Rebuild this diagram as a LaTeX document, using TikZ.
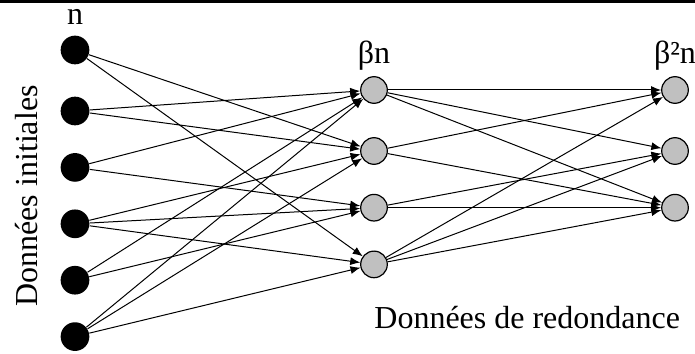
\documentclass[tikz,border=0pt]{standalone}
\usepackage{fontspec}
\setmainfont{Liberation Serif}
\usetikzlibrary{positioning,arrows.meta}
\definecolor{nodegrey}{RGB}{192,192,192}

\begin{document}
\begin{tikzpicture}[
  font=\fontsize{16pt}{19pt}\selectfont,
  on grid,
  data/.style={circle, fill=black, inner sep=0pt, minimum size=14.35pt},
  redund/.style={circle, draw=black, line width=0.6pt, fill=nodegrey, inner sep=0pt, minimum size=13.3pt},
  link/.style={line width=0.5pt, -{Latex[length=5pt,width=4pt]}},
  txt/.style={inner sep=0pt},
]
\useasboundingbox (0,0) rectangle (347.5pt,-176.5pt);
\draw[line width=1.5pt] (0,-0.75pt) -- (347.5pt,-0.75pt);

\node[data] (n1) at (37.5pt,-25pt) {};
\node[data, below=30.5pt of n1] (n2) {};
\node[data, below=28.2pt of n2] (n3) {};
\node[data, below=28.2pt of n3] (n4) {};
\node[data, below=28.2pt of n4] (n5) {};
\node[data, below=28.2pt of n5] (n6) {};

\node[redund] (m1) at (187pt,-45pt) {};
\node[redund, below=30.5pt of m1] (m2) {};
\node[redund, below=28.35pt of m2] (m3) {};
\node[redund, below=28.35pt of m3] (m4) {};

\node[redund, right=150.5pt of m1] (r1) {};
\node[redund, right=150.5pt of m2] (r2) {};
\node[redund, right=150.5pt of m3] (r3) {};

\node[txt, above=5.3pt of n1.north, anchor=base] (lab-n) {n};
\node[txt, above=6.4pt of m1.north, anchor=base] (lab-bn) {βn};
\node[txt, above=6.4pt of r1.north, anchor=base] (lab-bbn) {β²n};
\node[txt, rotate=90, anchor=base] (lab-init) at (18.5pt,-98pt) {Données initiales};
\node[txt, below=25.1pt of m4.south, anchor=base west] (lab-red) {Données de redondance};

\foreach \a/\b in {n1/m2, n1/m4, n2/m1, n2/m2, n3/m1, n3/m3,
                   n4/m2, n4/m3, n4/m4, n5/m1, n5/m3, n6/m1, n6/m2, n6/m4,
                   m1/r1, m1/r2, m1/r3, m2/r1, m2/r3, m3/r2, m3/r3,
                   m4/r1, m4/r2, m4/r3}
  \draw[link] (\a) -- (\b);
\end{tikzpicture}
\end{document}
